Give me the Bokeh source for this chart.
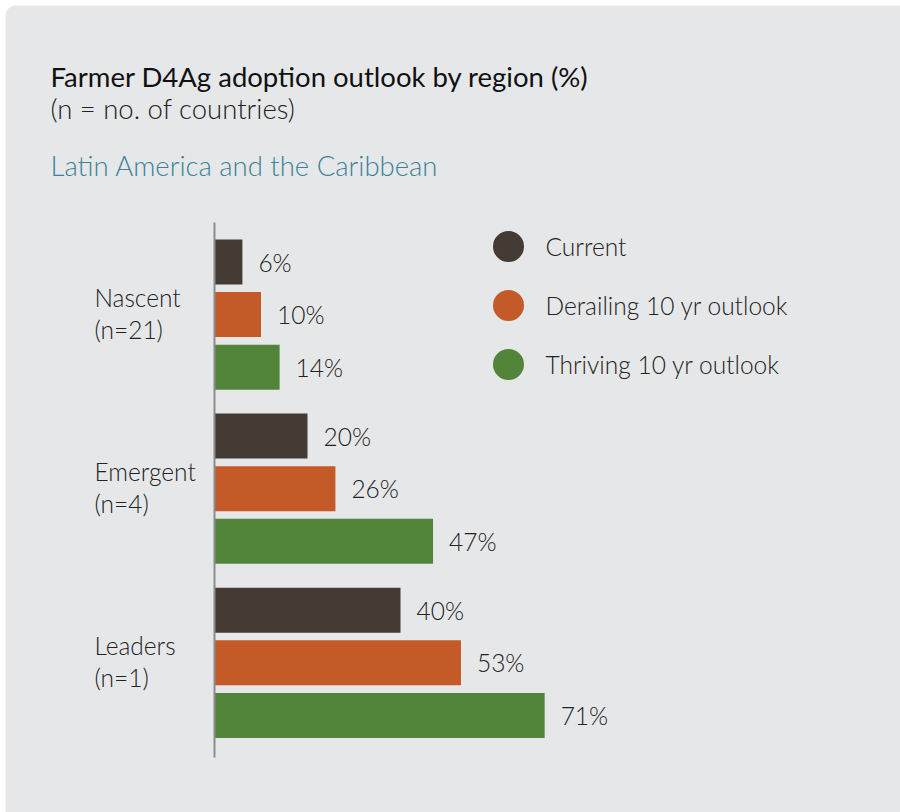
from bokeh.plotting import figure
from bokeh.models import Range1d, ColumnDataSource, BoxAnnotation
from bokeh.core.properties import value
from bokeh.embed import file_html
from bokeh.resources import INLINE

# ---- data ----
groups = ["Nascent", "Emergent", "Leaders"]
group_n = [21, 4, 1]
series = ["Current", "Derailing 10 yr outlook", "Thriving 10 yr outlook"]
current = [6, 20, 40]
derailing = [10, 26, 53]
thriving = [14, 47, 71]
colors = ["#443b35", "#c35a27", "#52843a"]

title = "Farmer D4Ag adoption outlook by region (%)"
subtitle = "(n = no. of countries)"
region = "Latin America and the Caribbean"

# ---- layout helpers (pixel <-> data) ----
W, H = 900, 812
K = 4.65        # px per percent
X0 = 214        # px of zero line
Y0 = 261.5      # px of first bar centre
P = 52.6        # px per bar slot
GROUP = 3.31    # slots per group

def px2x(px):
    return (px - X0) / K

def px2y(py):
    return (py - Y0) / P

FONT = value("Lato")
LIGHT = value("Lato Light")

p = figure(width=W, height=H, output_backend="svg", toolbar_location=None,
           x_range=Range1d(px2x(0), px2x(W)), y_range=Range1d(px2y(H), px2y(0)),
           min_border=0, outline_line_color=None, background_fill_color="white",
           border_fill_color="white")
p.axis.visible = False
p.grid.visible = False

card = BoxAnnotation(left=px2x(5), right=px2x(W + 40), top=px2y(5), bottom=px2y(H + 40),
                     fill_color="#e6e7e9", fill_alpha=1, line_color=None,
                     border_radius=10, level="underlay")
p.add_layout(card)

# bars
all_vals = [current, derailing, thriving]
ys, vals, cols, labels = [], [], [], []
for s, arr in enumerate(all_vals):
    for g, v in enumerate(arr):
        ys.append(g * GROUP + s)
        vals.append(v)
        cols.append(colors[s])
        labels.append(f"{v}%")
src = ColumnDataSource(dict(y=ys, v=vals, c=cols, lab=labels))
p.hbar(y="y", left=0, right="v", height=0.855, fill_color="c", line_color=None, source=src)
p.text(x="v", y="y", text="lab", source=src, x_offset=16, text_baseline="middle",
       text_align="left", text_font=LIGHT, text_font_size="24.5px", text_color="#222222")

# zero axis line
p.segment(x0=0, y0=px2y(222), x1=0, y1=px2y(757), line_color="#8c8c8c", line_width=2)

# category labels
gy = [g * GROUP + 1 for g in range(len(groups))]
gsrc = ColumnDataSource(dict(x=[px2x(94)] * len(groups), y=gy, a=groups,
                             b=[f"(n={n})" for n in group_n]))
p.text(x="x", y="y", text="a", source=gsrc, y_offset=-17, text_baseline="middle",
       text_font=LIGHT, text_font_size="24.5px", text_color="#222222")
p.text(x="x", y="y", text="b", source=gsrc, y_offset=15, text_baseline="middle",
       text_font=LIGHT, text_font_size="24.5px", text_color="#222222")

# legend
ly = [px2y(246), px2y(305), px2y(364)]
lsrc = ColumnDataSource(dict(x=[px2x(508)] * 3, tx=[px2x(545)] * 3, y=ly, c=colors, t=series))
p.scatter(x="x", y="y", size=31, fill_color="c", line_color=None, source=lsrc)
p.text(x="tx", y="y", text="t", source=lsrc, text_baseline="middle", text_font=LIGHT,
       text_font_size="24.5px", text_color="#222222")

# titles
p.text(x=[px2x(50)], y=[px2y(76)], text=[title], text_baseline="alphabetic",
       text_font=FONT, text_font_size="27.5px", text_color="#111111")
p.text(x=[px2x(50)], y=[px2y(108)], text=[subtitle], text_baseline="alphabetic",
       text_font=LIGHT, text_font_size="27.5px", text_color="#222222")
p.text(x=[px2x(50)], y=[px2y(165)], text=[region], text_baseline="alphabetic",
       text_font=LIGHT, text_font_size="27.5px", text_color="#3a8397")

open("out.html", "w").write(file_html(p, INLINE))
